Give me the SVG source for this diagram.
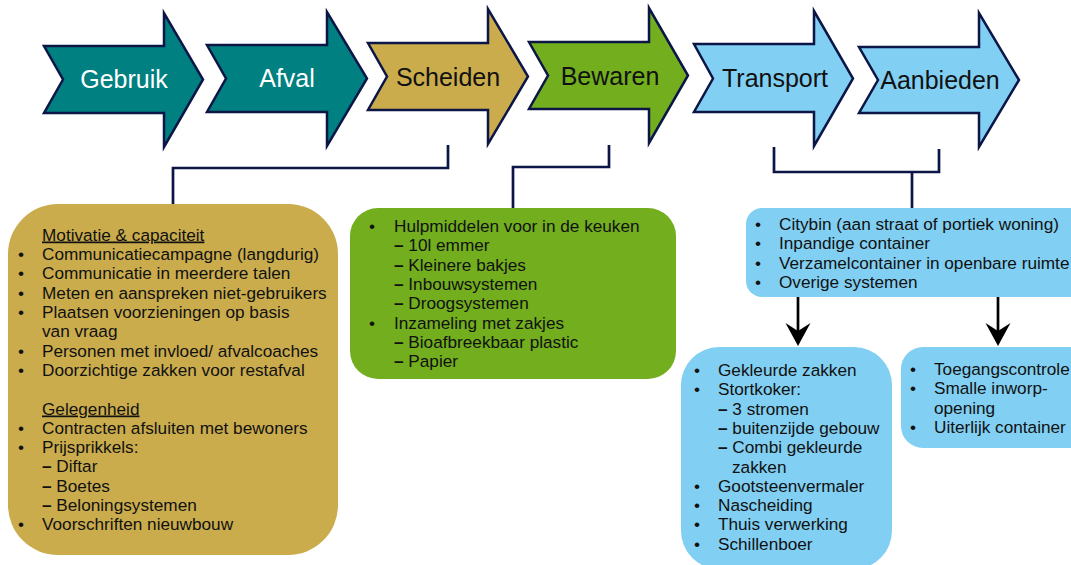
<svg xmlns="http://www.w3.org/2000/svg" width="1071" height="565" viewBox="0 0 1071 565">
  <style>
    .step { stroke: #0b1646; stroke-width: 2.5; stroke-linejoin: miter; }
    .teal { fill: #008080; }
    .khaki { fill: #caac4d; }
    .green { fill: #72ae1e; }
    .sky { fill: #81cff2; }
    .title { font-family: "Liberation Sans", Arial, sans-serif; font-size: 25px; text-anchor: middle; fill: #111111; }
    .title.light { fill: #ffffff; }
    .body { font-family: "Liberation Sans", Arial, sans-serif; font-size: 17.2px; fill: #111111; }
    .u { text-decoration: underline; }
    .d { font-weight: bold; }
    .link { fill: none; stroke: #0b1646; stroke-width: 2.7; }
    .flow { fill: none; stroke: #000000; stroke-width: 2.7; marker-end: url(#head); }
  </style>
  <defs>
    <marker id="head" markerUnits="userSpaceOnUse" viewBox="-25 -14 37 28" markerWidth="37" markerHeight="28" refX="-10" refY="0" orient="auto">
      <path d="M0,0 L-23,-12.5 L-15,0 L-23,12.5 Z" fill="#000000"/>
    </marker>
  </defs>

  <!-- process chain -->
  <g id="gebruik">
    <polygon class="step teal" points="44,46 164,46 164,13 203,79.5 164,147 164,113 44,113 63,79.5"/>
    <text class="title light" x="124" y="88">Gebruik</text>
  </g>
  <g id="afval">
    <polygon class="step teal" points="207,45 327,45 327,12 367,78.5 327,146 327,112 207,112 226,78.5"/>
    <text class="title light" x="287" y="87">Afval</text>
  </g>
  <g id="scheiden">
    <polygon class="step khaki" points="368,43 488,43 488,9 528,76.5 488,144 488,110 368,110 387,76.5"/>
    <text class="title" x="448" y="86">Scheiden</text>
  </g>
  <g id="bewaren">
    <polygon class="step green" points="529,42 649,42 649,8 688,75.5 649,143 649,109 529,109 548,75.5"/>
    <text class="title" x="610" y="85">Bewaren</text>
  </g>
  <g id="transport">
    <polygon class="step sky" points="694,44 814,44 814,11 853,78.5 814,146 814,112 694,112 713,78.5"/>
    <text class="title" x="775" y="87">Transport</text>
  </g>
  <g id="aanbieden">
    <polygon class="step sky" points="859,47 979,47 979,13 1019,80 979,147 979,113 859,113 878,80"/>
    <text class="title" x="940" y="89">Aanbieden</text>
  </g>

  <!-- connectors -->
  <g id="connectors">
    <polyline class="link" points="448,145 448,168 173,168 173,205"/>
    <polyline class="link" points="609,145 609,167 513,167 513,208"/>
    <polyline class="link" points="774,147 774,172 939,172 939,149"/>
    <line class="link" x1="912" y1="172" x2="912" y2="208"/>
    <line class="flow" x1="798" y1="294" x2="798" y2="336"/>
    <line class="flow" x1="998" y1="274" x2="998" y2="336"/>
  </g>

  <!-- measures for separating -->
  <g id="scheiden-maatregelen">
    <rect class="khaki" x="8" y="204" width="330" height="351" rx="50"/>
    <g class="body">
      <text x="42" y="240.5" class="u">Motivatie &amp; capaciteit</text>
      <text x="18" y="260">•</text><text x="42" y="260">Communicatiecampagne (langdurig)</text>
      <text x="18" y="279">•</text><text x="42" y="279">Communicatie in meerdere talen</text>
      <text x="18" y="298.5">•</text><text x="42" y="298.5">Meten en aanspreken niet-gebruikers</text>
      <text x="18" y="318">•</text><text x="42" y="318">Plaatsen voorzieningen op basis</text>
      <text x="42" y="337">van vraag</text>
      <text x="18" y="356.5">•</text><text x="42" y="356.5">Personen met invloed/ afvalcoaches</text>
      <text x="18" y="376">•</text><text x="42" y="376">Doorzichtige zakken voor restafval</text>
      <text x="42" y="414.5" class="u">Gelegenheid</text>
      <text x="18" y="433.5">•</text><text x="42" y="433.5">Contracten afsluiten met bewoners</text>
      <text x="18" y="453">•</text><text x="42" y="453">Prijsprikkels:</text>
      <text x="42" y="472"><tspan class="d">–</tspan> Diftar</text>
      <text x="42" y="491.5"><tspan class="d">–</tspan> Boetes</text>
      <text x="42" y="511"><tspan class="d">–</tspan> Beloningsystemen</text>
      <text x="18" y="530">•</text><text x="42" y="530">Voorschriften nieuwbouw</text>
    </g>
  </g>

  <!-- measures for storage -->
  <g id="bewaren-maatregelen">
    <rect class="green" x="350" y="208" width="326" height="171" rx="28"/>
    <g class="body">
      <text x="369" y="232">•</text><text x="394" y="232">Hulpmiddelen voor in de keuken</text>
      <text x="394" y="251.3"><tspan class="d">–</tspan> 10l emmer</text>
      <text x="394" y="270.6"><tspan class="d">–</tspan> Kleinere bakjes</text>
      <text x="394" y="290"><tspan class="d">–</tspan> Inbouwsystemen</text>
      <text x="394" y="309.2"><tspan class="d">–</tspan> Droogsystemen</text>
      <text x="369" y="328.5">•</text><text x="394" y="328.5">Inzameling met zakjes</text>
      <text x="394" y="347.8"><tspan class="d">–</tspan> Bioafbreekbaar plastic</text>
      <text x="394" y="367.1"><tspan class="d">–</tspan> Papier</text>
    </g>
  </g>

  <!-- collection systems -->
  <g id="inzamelsystemen">
    <rect class="sky" x="746" y="208" width="345" height="89" rx="16"/>
    <g class="body">
      <text x="755" y="230">•</text><text x="779" y="230">Citybin (aan straat of portiek woning)</text>
      <text x="755" y="249.3">•</text><text x="779" y="249.3">Inpandige container</text>
      <text x="755" y="268.6">•</text><text x="779" y="268.6">Verzamelcontainer in openbare ruimte</text>
      <text x="755" y="288">•</text><text x="779" y="288">Overige systemen</text>
    </g>
  </g>

  <g id="inpandig">
    <rect class="sky" x="681" y="347" width="211" height="222" rx="38"/>
    <g class="body">
      <text x="694" y="376">•</text><text x="718" y="376">Gekleurde zakken</text>
      <text x="694" y="395.3">•</text><text x="718" y="395.3">Stortkoker:</text>
      <text x="718" y="414.6"><tspan class="d">–</tspan> 3 stromen</text>
      <text x="718" y="433.9"><tspan class="d">–</tspan> buitenzijde gebouw</text>
      <text x="718" y="453.2"><tspan class="d">–</tspan> Combi gekleurde</text>
      <text x="732" y="472.5">zakken</text>
      <text x="694" y="491.8">•</text><text x="718" y="491.8">Gootsteenvermaler</text>
      <text x="694" y="511.1">•</text><text x="718" y="511.1">Nascheiding</text>
      <text x="694" y="530.4">•</text><text x="718" y="530.4">Thuis verwerking</text>
      <text x="694" y="549.7">•</text><text x="718" y="549.7">Schillenboer</text>
    </g>
  </g>

  <g id="openbaar">
    <rect class="sky" x="901" y="347" width="200" height="101" rx="22"/>
    <g class="body">
      <text x="910" y="375">•</text><text x="934" y="375">Toegangscontrole</text>
      <text x="910" y="394.3">•</text><text x="934" y="394.3">Smalle inworp-</text>
      <text x="934" y="413.6">opening</text>
      <text x="910" y="433">•</text><text x="934" y="433">Uiterlijk container</text>
    </g>
  </g>
</svg>
